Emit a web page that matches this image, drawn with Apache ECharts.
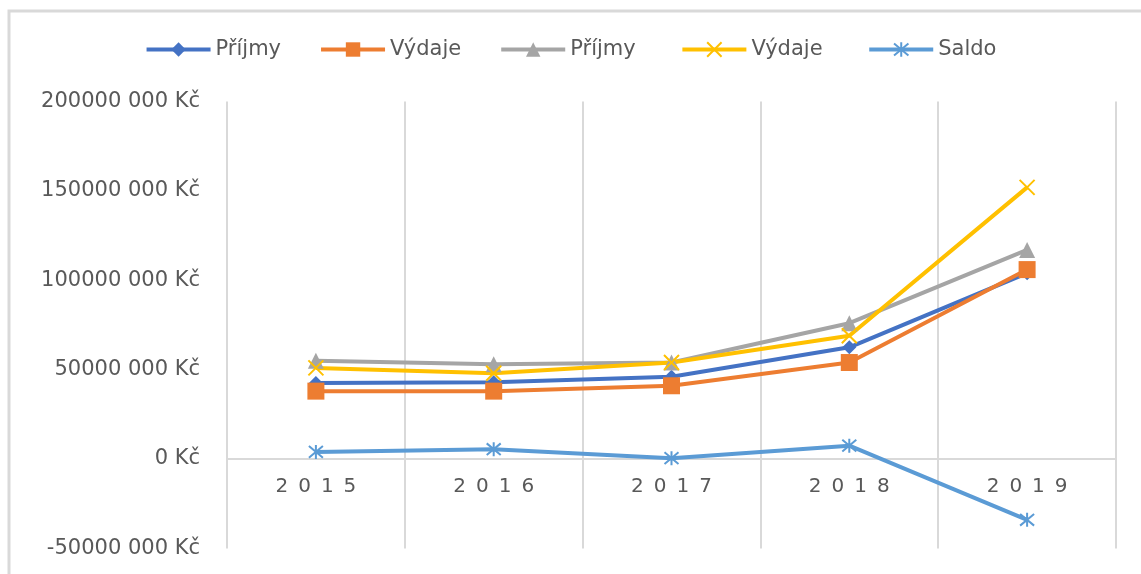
<!DOCTYPE html>
<html>
<head>
<meta charset="utf-8">
<script src="https://cdn.jsdelivr.net/npm/echarts@6/dist/echarts.min.js"></script>
<style>
    html, body { margin: 0; padding: 0; background: #fff; }
    #myChart { width: 1141px; height: 574px; }
</style>
</head>
<body>
<div id="myChart"></div>
<script>
    // roky
    const years = ['2015', '2016', '2017', '2018', '2019'];
    // hodnoty v Kč
    const prijmy1 = [42500000, 43000000, 46000000, 62500000, 104000000];
    const vydaje1 = [38000000, 38000000, 41000000, 54000000, 106000000];
    const prijmy2 = [55000000, 53000000, 54000000, 76000000, 117000000];
    const vydaje2 = [51000000, 48000000, 54000000, 69000000, 152000000];
    const saldo = [4000000, 5500000, 500000, 7500000, -34000000];

    const labelColor = '#595959';
    const gridColor = '#d9d9d9';
    const font = 'DejaVu Sans';

    function fmtKc(v) {
        if (v === 0) return '0 Kč';
        return Math.round(v / 1000) + ' 000 Kč';
    }

    function makeSeries(name, data, color, symbol, size, extra) {
        return Object.assign({
            name: name,
            type: 'line',
            data: data,
            symbol: symbol,
            symbolSize: size,
            lineStyle: { color: color, width: 4 },
            itemStyle: { color: color },
            emphasis: { disabled: true }
        }, extra || {});
    }

    let myChart = echarts.init(document.getElementById('myChart'));
    let option = {
        backgroundColor: '#fff',
        animation: false,
        textStyle: { fontFamily: font },
        graphic: [{
            type: 'rect',
            shape: { x: 9, y: 11, width: 1300, height: 700 },
            style: { fill: 'none', stroke: gridColor, lineWidth: 3 },
            silent: true
        }],
        legend: {
            top: 34,
            left: 'center',
            itemWidth: 64,
            itemHeight: 18,
            itemGap: 38,
            lineStyle: { width: 4 },
            textStyle: { color: labelColor, fontSize: 21, fontFamily: font }
        },
        grid: {
            left: 227,
            right: 25,
            top: 101.6,
            bottom: 25.6,
            containLabel: false,
            outerBoundsMode: 'none'
        },
        xAxis: {
            type: 'category',
            data: years,
            boundaryGap: true,
            axisLine: { onZero: true, lineStyle: { color: gridColor, width: 2 } },
            axisTick: { show: false },
            splitLine: { show: true, lineStyle: { color: gridColor, width: 2 } },
            axisLabel: {
                color: labelColor,
                fontSize: 20,
                margin: -72,
                fontFamily: font,
                formatter: v => v.split('').join('\u2002')
            }
        },
        yAxis: {
            type: 'value',
            min: -50000000,
            max: 200000000,
            interval: 50000000,
            axisLine: { show: false },
            axisTick: { show: false },
            splitLine: { show: false },
            axisLabel: {
                color: labelColor,
                fontSize: 21,
                margin: 27,
                fontFamily: font,
                formatter: fmtKc
            }
        },
        series: [
            makeSeries('Příjmy', prijmy1, '#4472C4', 'diamond', 14),
            makeSeries('Výdaje', vydaje1, '#ED7D31', 'rect', 17),
            makeSeries('Příjmy ', prijmy2, '#A5A5A5', 'triangle', 16),
            makeSeries('Výdaje ', vydaje2, '#FFC000', 'path://M0,0L10,10M10,0L0,10', 15, {
                itemStyle: { color: 'none', borderColor: '#FFC000', borderWidth: 2 }
            }),
            makeSeries('Saldo', saldo, '#5B9BD5', 'path://M0,0L10,10M10,0L0,10M5,-1L5,11', 14, {
                itemStyle: { color: 'none', borderColor: '#5B9BD5', borderWidth: 2 }
            })
        ]
    };
    myChart.setOption(option);
</script>
</body>
</html>
